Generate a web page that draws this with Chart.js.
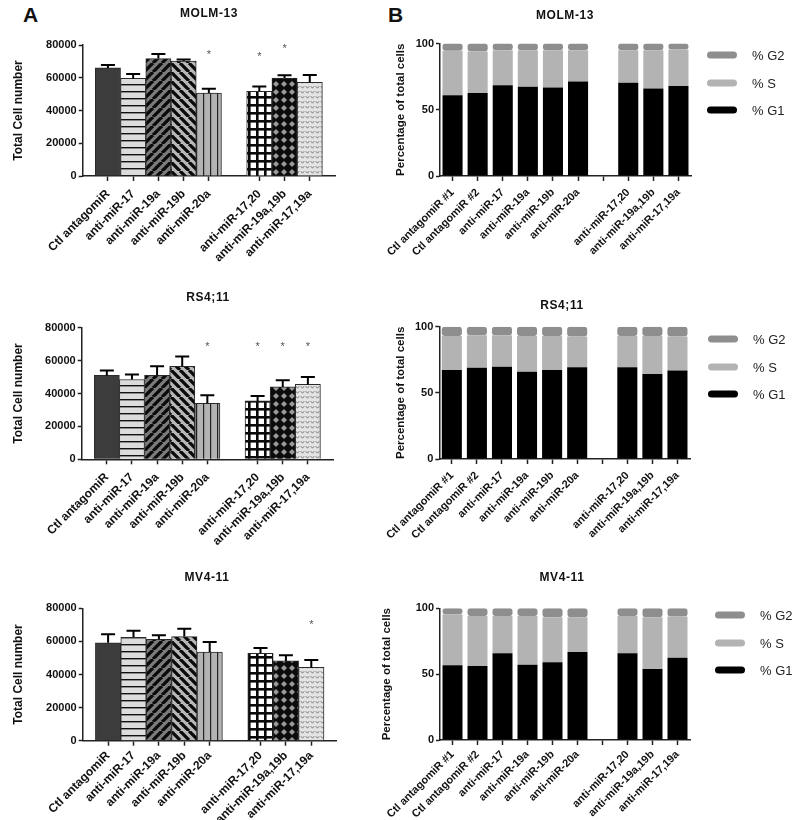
<!DOCTYPE html>
<html>
<head>
<meta charset="utf-8">
<title>miR-17-92 antagomiR: cell number and cell cycle</title>
<script src="https://cdn.jsdelivr.net/npm/chart.js@4.4.1/dist/chart.umd.min.js"></script>
<style>
  body { margin: 0; background: #fff; width: 800px; height: 820px; position: relative; overflow: hidden;
         font-family: 'Liberation Sans', Arial, sans-serif; color: #111; }
  canvas { position: absolute; }
  .letter { position: absolute; font-weight: bold; font-size: 21px; line-height: 21px; }
  .title { position: absolute; font-weight: bold; font-size: 12px; line-height: 12px; letter-spacing: 0.6px;
           transform: translate(-50%, -50%); white-space: nowrap; }
  .swatch { position: absolute; width: 30px; height: 7px; border-radius: 4px; transform: translateY(-50%); }
  .legtxt { position: absolute; font-size: 13px; line-height: 13px; color: #222; transform: translateY(-50%); white-space: nowrap; }
</style>
</head>
<body>
<div class="letter" style="left:23px; top:4px">A</div>
<div class="letter" style="left:388px; top:4px">B</div>
<script>
// ---- panel A: total cell number ----
const cellGroups = ['Ctl antagomiR', 'anti-miR-17', 'anti-miR-19a', 'anti-miR-19b', 'anti-miR-20a', '',
  'anti-miR-17,20', 'anti-miR-19a,19b', 'anti-miR-17,19a'];
const countTicks = [0, 20000, 40000, 60000, 80000];

const molmCount = [66000, 59600, 71700, 70200, 50700, null, 51700, 59800, 57200];
const molmSd = [1800, 2700, 2800, 1000, 2600, null, 2900, 1700, 4500];
const molmStar = [null, null, null, null, 75300, null, 74500, 79400, null];

const rsCount = [51000, 48500, 51000, 56500, 34000, null, 35500, 44000, 45500];
const rsSd = [3000, 3000, 5500, 6000, 5000, null, 3000, 4000, 4500];
const rsStar = [null, null, null, null, 70000, null, 70000, 70000, 70000];

const mvCount = [59200, 62500, 61300, 62900, 53600, null, 52800, 48200, 44300];
const mvSd = [5100, 4000, 2400, 4800, 6000, null, 3200, 3400, 4500];
const mvStar = [null, null, null, null, null, null, null, null, 71500];

// ---- panel B: cell cycle phases ----
const cycleGroups = ['Ctl antagomiR #1', 'Ctl antagomiR #2', 'anti-miR-17', 'anti-miR-19a', 'anti-miR-19b',
  'anti-miR-20a', '', 'anti-miR-17,20', 'anti-miR-19a,19b', 'anti-miR-17,19a'];
const phaseNames = ['% G1', '% S', '% G2'];
const percentTicks = [0, 50, 100];

const molmG1 = [61, 62.7, 68.5, 67.3, 66.8, 71.3, null, 70.3, 66, 68];
const molmS = [33.5, 31.3, 26.5, 27.7, 28.2, 23.7, null, 24.7, 29, 27.5];
const molmG2 = [5.5, 6, 5, 5, 5, 5, null, 5, 5, 4.5];

const rsG1 = [67.3, 69, 69.8, 66, 67.3, 69.3, null, 69.3, 64.2, 66.8];
const rsS = [25.7, 24.5, 23.7, 27, 25.7, 23.2, null, 23.7, 28.8, 25.7];
const rsG2 = [7, 6.5, 6.5, 7, 7, 7.5, null, 7, 7, 7.5];

const mvG1 = [56.7, 56.2, 65.8, 57.2, 59, 66.8, null, 65.8, 53.9, 62.5];
const mvS = [38.7, 38, 28.4, 37, 34.2, 26.4, null, 28.4, 39.3, 31.2];
const mvG2 = [4.6, 5.8, 5.8, 5.8, 6.8, 6.8, null, 5.8, 6.8, 6.3];

const phaseColors = ['#000000', '#b3b3b3', '#8e8e8e'];

Chart.defaults.font.family = "'Liberation Sans', Arial, sans-serif";
Chart.defaults.color = '#111';

function tile(w, h, paint) {
  const c = document.createElement('canvas');
  c.width = w;
  c.height = h;
  const g = c.getContext('2d');
  paint(g, w, h);
  return g.createPattern(c, 'repeat');
}

function stripes(bg, rising) {
  return (g, w, h) => {
    g.fillStyle = bg;
    g.fillRect(0, 0, w, h);
    g.strokeStyle = '#0a0a0a';
    g.lineWidth = 3.3;
    g.beginPath();
    for (let k = -1; k <= 1; k++) {
      if (rising) { g.moveTo(k * w, h); g.lineTo(k * w + w, 0); }
      else { g.moveTo(k * w, 0); g.lineTo(k * w + w, h); }
    }
    g.stroke();
  };
}

const barFills = [
  '#3c3c3c',
  tile(4, 7, (g, w, h) => { g.fillStyle = '#dcdcdc'; g.fillRect(0, 0, w, h); g.fillStyle = '#111'; g.fillRect(0, 0, w, 1.4); }),
  tile(9, 9, stripes('#7b7b7b', true)),
  tile(9, 9, stripes('#b8b8b8', false)),
  tile(7, 4, (g, w, h) => { g.fillStyle = '#b3b3b3'; g.fillRect(0, 0, w, h); g.fillStyle = '#222'; g.fillRect(0, 0, 1.2, h); }),
  null,
  tile(8, 8, (g, w, h) => { g.fillStyle = '#fff'; g.fillRect(0, 0, w, h); g.fillStyle = '#0a0a0a'; g.fillRect(0, 0, w, 2.6); g.fillRect(0, 0, 2.6, h); }),
  tile(8, 8, (g, w, h) => {
    g.fillStyle = '#0c0c0c'; g.fillRect(0, 0, w, h);
    g.fillStyle = '#9a9a9a'; g.beginPath();
    g.moveTo(4, 1); g.lineTo(7, 4); g.lineTo(4, 7); g.lineTo(1, 4); g.closePath(); g.fill();
  }),
  tile(5, 5, (g, w, h) => {
    g.fillStyle = '#e4e4e4'; g.fillRect(0, 0, w, h);
    g.strokeStyle = '#6f6f6f'; g.lineWidth = 0.9; g.beginPath();
    g.moveTo(0.8, 1.2); g.lineTo(2.5, 3.2); g.lineTo(4.2, 1.2); g.stroke();
  }),
];

function makeCanvas(left, top, w, h) {
  const c = document.createElement('canvas');
  c.width = w;
  c.height = h;
  c.style.left = left + 'px';
  c.style.top = top + 'px';
  document.body.appendChild(c);
  return c;
}

function addTitle(text, x, y) {
  const d = document.createElement('div');
  d.className = 'title';
  d.textContent = text;
  d.style.left = x + 'px';
  d.style.top = y + 'px';
  document.body.appendChild(d);
}

function addLegend(x, ys) {
  // G2 on top, G1 at the bottom, like the stack
  [2, 1, 0].forEach((k, row) => {
    const sw = document.createElement('div');
    sw.className = 'swatch';
    sw.style.left = x + 'px';
    sw.style.top = ys[row] + 'px';
    sw.style.background = phaseColors[k];
    document.body.appendChild(sw);
    const t = document.createElement('div');
    t.className = 'legtxt';
    t.style.left = (x + 45) + 'px';
    t.style.top = ys[row] + 'px';
    t.textContent = phaseNames[k];
    document.body.appendChild(t);
  });
}

// error bars (upward only) and significance stars, placed through the chart scales
function errorBars(sds, stars) {
  return {
    id: 'errorBars',
    afterDatasetsDraw(chart) {
      const { ctx, scales: { x, y } } = chart;
      const values = chart.data.datasets[0].data;
      ctx.save();
      ctx.strokeStyle = '#000';
      ctx.lineWidth = 2;
      sds.forEach((sd, i) => {
        if (sd == null) return;
        const px = x.getPixelForValue(i);
        const base = y.getPixelForValue(values[i]);
        const top = y.getPixelForValue(values[i] + sd);
        ctx.beginPath();
        ctx.moveTo(px, base);
        ctx.lineTo(px, top);
        ctx.moveTo(px - 7, top);
        ctx.lineTo(px + 7, top);
        ctx.stroke();
      });
      ctx.fillStyle = '#555';
      ctx.font = "11px 'Liberation Sans', Arial";
      ctx.textAlign = 'center';
      ctx.textBaseline = 'middle';
      stars.forEach((s, i) => {
        if (s == null) return;
        ctx.fillText('*', x.getPixelForValue(i), y.getPixelForValue(s) + 2.5);
      });
      ctx.restore();
    }
  };
}

const axisColor = '#222';

function countChart(canvas, values, sds, stars, geo) {
  const labels = ['', ...cellGroups, ''];
  new Chart(canvas, {
    type: 'bar',
    data: {
      labels,
      datasets: [{
        data: [null, ...values, null],
        backgroundColor: [null, ...barFills, null],
        borderColor: '#2a2a2a',
        borderWidth: 1,
        categoryPercentage: 1,
        barPercentage: 1,
      }],
    },
    options: {
      responsive: false,
      animation: false,
      devicePixelRatio: 1,
      layout: { padding: { top: geo.top, right: geo.right, bottom: 0, left: 0 } },
      plugins: { legend: { display: false }, tooltip: { enabled: false } },
      scales: {
        x: {
          offset: false,
          grid: {
            offset: false, drawOnChartArea: false, tickLength: 5, tickWidth: 1.5,
            tickColor: (c) => (c.tick && c.tick.label === '') ? 'rgba(0,0,0,0)' : axisColor,
          },
          border: { color: axisColor, width: 1.5 },
          ticks: { autoSkip: false, minRotation: 45, maxRotation: 45, padding: geo.lp, font: { size: 12, weight: 'bold' } },
          afterFit: (s) => { s.height = geo.xh; },
        },
        y: {
          min: 0,
          max: 80000,
          afterBuildTicks: (s) => { s.ticks = countTicks.map(v => ({ value: v })); },
          grid: { drawOnChartArea: false, tickLength: 4, tickWidth: 1.5, tickColor: axisColor },
          border: { color: axisColor, width: 1.5 },
          ticks: { padding: 2, font: { size: 11, weight: 'bold' }, callback: (v) => String(v) },
          title: { display: true, text: 'Total Cell number', font: { size: 12, weight: 'bold' }, padding: { top: geo.tp, bottom: 0 } },
          afterFit: (s) => { s.width = geo.yw; },
        },
      },
    },
    plugins: [errorBars([null, ...sds, null], [null, ...stars, null])],
  });
}

function cycleChart(canvas, g1, s, g2, geo) {
  new Chart(canvas, {
    type: 'bar',
    data: {
      labels: cycleGroups,
      datasets: [g1, s, g2].map((d, k) => ({
        label: phaseNames[k],
        data: d,
        backgroundColor: phaseColors[k],
        borderRadius: 3,
        borderSkipped: false,
        categoryPercentage: 0.8,
        barPercentage: 1,
      })),
    },
    options: {
      responsive: false,
      animation: false,
      devicePixelRatio: 1,
      layout: { padding: { top: geo.top, right: geo.right, bottom: 0, left: 0 } },
      plugins: { legend: { display: false }, tooltip: { enabled: false } },
      scales: {
        x: {
          stacked: true,
          grid: { offset: false, drawOnChartArea: false, tickLength: 5, tickWidth: 1.5, tickColor: axisColor },
          border: { color: axisColor, width: 1.5 },
          ticks: { autoSkip: false, minRotation: 45, maxRotation: 45, padding: geo.lp, font: { size: 11, weight: 'bold' } },
          afterFit: (sc) => { sc.height = geo.xh; },
        },
        y: {
          stacked: true,
          min: 0,
          max: 100,
          afterBuildTicks: (sc) => { sc.ticks = percentTicks.map(v => ({ value: v })); },
          grid: { drawOnChartArea: false, tickLength: 4, tickWidth: 1.5, tickColor: axisColor },
          border: { color: axisColor, width: 1.5 },
          ticks: { padding: 2, font: { size: 11, weight: 'bold' } },
          title: { display: true, text: 'Percentage of total cells', font: { size: 11.5, weight: 'bold' }, padding: { top: geo.tp, bottom: 0 } },
          afterFit: (sc) => { sc.width = geo.yw; },
        },
      },
    },
  });
}

countChart(makeCanvas(0, 0, 400, 280), molmCount, molmSd, molmStar, { top: 45, xh: 104, yw: 82.7, right: 65, tp: 11, lp: 6 });
countChart(makeCanvas(0, 280, 400, 280), rsCount, rsSd, rsStar, { top: 47.7, xh: 100.7, yw: 81.7, right: 67, tp: 11, lp: 6 });
countChart(makeCanvas(0, 560, 400, 260), mvCount, mvSd, mvStar, { top: 48.3, xh: 79.3, yw: 82.7, right: 63.3, tp: 11, lp: 3 });

cycleChart(makeCanvas(370, 0, 430, 280), molmG1, molmS, molmG2, { top: 43.5, xh: 104, yw: 70, right: 109, tp: 24, lp: 5 });
cycleChart(makeCanvas(370, 280, 430, 280), rsG1, rsS, rsG2, { top: 46.7, xh: 101, yw: 69.3, right: 110, tp: 24, lp: 5 });
cycleChart(makeCanvas(370, 560, 430, 260), mvG1, mvS, mvG2, { top: 48.3, xh: 80, yw: 70, right: 110, tp: 10, lp: 3 });

addTitle('MOLM-13', 209, 13);
addTitle('MOLM-13', 565, 15);
addTitle('RS4;11', 208, 297);
addTitle('RS4;11', 562, 305);
addTitle('MV4-11', 207, 577);
addTitle('MV4-11', 562, 577);

addLegend(707, [55, 82.7, 110]);
addLegend(708, [339, 366.7, 394.3]);
addLegend(715, [615, 643.3, 670]);
</script>
</body>
</html>
